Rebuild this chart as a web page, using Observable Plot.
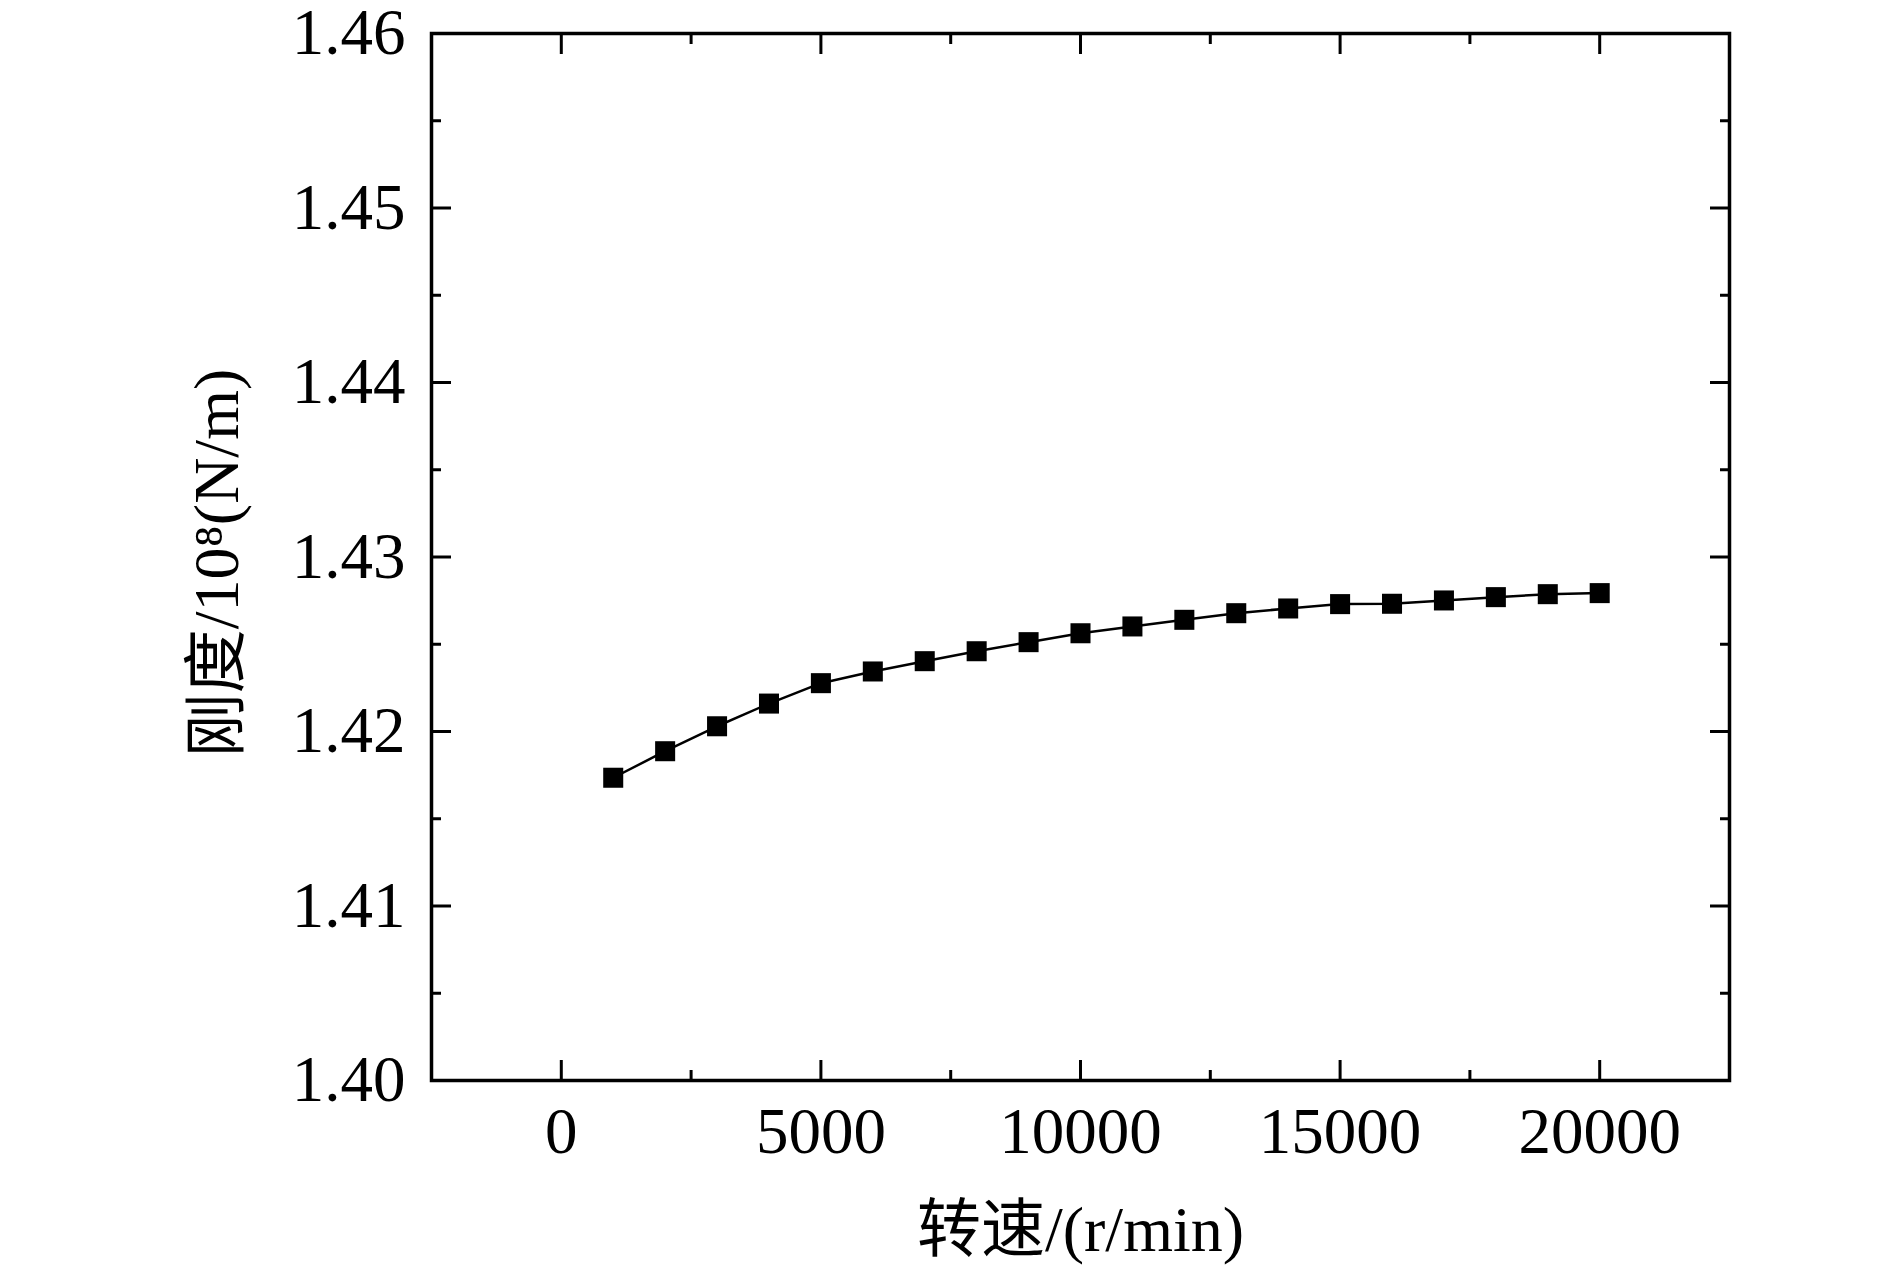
<!DOCTYPE html>
<html>
<head>
<meta charset="utf-8">
<script src="https://cdn.jsdelivr.net/npm/d3@7"></script>
<script src="https://cdn.jsdelivr.net/npm/@observablehq/plot@0.6"></script>
<style>
  body { margin: 0; background: #fff; }
  #chart svg { display: block; }
</style>
</head>
<body>
<div id="chart"></div>
<script>
// Data
const speed = [1000, 2000, 3000, 4000, 5000, 6000, 7000, 8000, 9000, 10000,
               11000, 12000, 13000, 14000, 15000, 16000, 17000, 18000, 19000, 20000];
const stiffness = [1.41735, 1.41887, 1.42030, 1.42160, 1.42277, 1.42344, 1.42403, 1.42460, 1.42512, 1.42563,
                   1.42602, 1.42640, 1.42678, 1.42705, 1.42730, 1.42732, 1.42751, 1.42770, 1.42787, 1.42793];

const xMajorTicks = [0, 5000, 10000, 15000, 20000];
const xMinorTicks = [2500, 7500, 12500, 17500];
const yMajorTicks = [1.40, 1.41, 1.42, 1.43, 1.44, 1.45, 1.46];
const yMinorTicks = [1.405, 1.415, 1.425, 1.435, 1.445, 1.455];

const xTitle = "转速/(r/min)";
const yTitle = "刚度/10⁸(N/m)";

const data = speed.map((s, i) => ({speed: s, k: stiffness[i]}));

const none = () => "";
const fontFamily = "'Liberation Serif', 'Times New Roman', 'Noto Sans CJK SC', serif";

const chart = Plot.plot({
  width: 1890,
  height: 1271,
  marginLeft: 431,
  marginRight: 161,
  marginTop: 33,
  marginBottom: 191,
  style: {fontFamily, background: "#fff", color: "#000", overflow: "visible"},
  x: {domain: [-2500, 22500], label: null},
  y: {domain: [1.40, 1.46], label: null},
  marks: [
    // inward tick marks on all four sides
    Plot.axisY({anchor: "left", ticks: yMajorTicks, tickSize: 20, dx: 20, tickFormat: none, strokeWidth: 3, label: null}),
    Plot.axisY({anchor: "left", ticks: yMinorTicks, tickSize: 10, dx: 10, tickFormat: none, strokeWidth: 3, label: null}),
    Plot.axisY({anchor: "right", ticks: yMajorTicks, tickSize: 20, dx: -20, tickFormat: none, strokeWidth: 3, label: null}),
    Plot.axisY({anchor: "right", ticks: yMinorTicks, tickSize: 10, dx: -10, tickFormat: none, strokeWidth: 3, label: null}),
    Plot.axisX({anchor: "bottom", ticks: xMajorTicks, tickSize: 20, dy: -20, tickFormat: none, strokeWidth: 3, label: null}),
    Plot.axisX({anchor: "bottom", ticks: xMinorTicks, tickSize: 10, dy: -10, tickFormat: none, strokeWidth: 3, label: null}),
    Plot.axisX({anchor: "top", ticks: xMajorTicks, tickSize: 20, dy: 20, tickFormat: none, strokeWidth: 3, label: null}),
    Plot.axisX({anchor: "top", ticks: xMinorTicks, tickSize: 10, dy: 10, tickFormat: none, strokeWidth: 3, label: null}),
    // tick labels
    Plot.axisY({anchor: "left", ticks: yMajorTicks, tickSize: 0, tickPadding: 26, tickFormat: d3.format(".2f"), fontSize: 65, label: null}),
    Plot.axisX({anchor: "bottom", ticks: xMajorTicks, tickSize: 0, tickPadding: 26, tickFormat: d3.format("d"), fontSize: 65, label: null}),
    // frame
    Plot.frame({stroke: "#000", strokeWidth: 3.5}),
    // data
    Plot.line(data, {x: "speed", y: "k", stroke: "#000", strokeWidth: 2.5}),
    Plot.dot(data, {x: "speed", y: "k", symbol: "square", r: 11.3, fill: "#000", stroke: "none"}),
    // axis titles
    Plot.text([xTitle], {frameAnchor: "bottom", text: d => d, textAnchor: "middle", dy: 170, lineAnchor: "bottom", fontSize: 64, fill: "#000"}),
    Plot.text([yTitle], {frameAnchor: "left", text: d => d, textAnchor: "middle", rotate: -90, dx: -214, dy: 6, fontSize: 64, fill: "#000"})
  ]
});

document.getElementById("chart").appendChild(chart);
</script>
</body>
</html>
